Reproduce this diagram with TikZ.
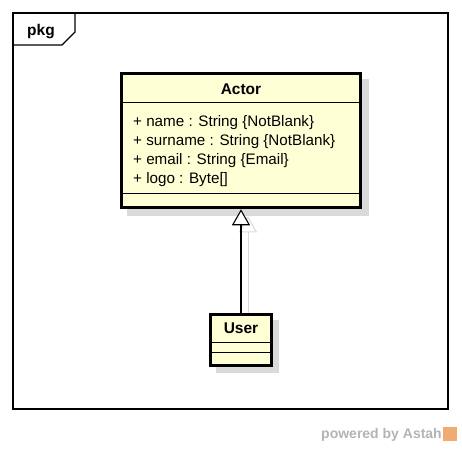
\documentclass[tikz,border=0pt]{standalone}
\usepackage{fontspec}
\setmainfont{Liberation Sans}
\usepackage{xcolor}
\usepackage{tikz}
\usetikzlibrary{arrows.meta, positioning, calc}
\definecolor{classfill}{RGB}{255,255,214}
\definecolor{shadowgray}{RGB}{218,218,218}
\definecolor{astahgray}{RGB}{180,180,180}
\definecolor{astahorange}{RGB}{240,172,112}
\tikzset{
  classbox/.style={draw, line width=3pt, fill=classfill, inner sep=0pt},
  shadowbox/.style={fill=shadowgray, draw=none},
  sepline/.style={line width=0.9pt},
  frame/.style={line width=1.2pt},
  inherit/.style={-{Triangle[open, length=16pt, width=18pt, fill=white]}, line width=1.1pt},
  shadowlink/.style={{Triangle[open, length=16pt, width=18pt]}-, line width=1pt, draw=shadowgray},
  attr/.style={anchor=base west, inner sep=0pt, font=\fontsize{15.2}{18}\selectfont},
  title/.style={anchor=base, inner sep=0pt, font=\fontsize{15.5}{18}\selectfont\bfseries}
}

\begin{document}
\begin{tikzpicture}[x=1pt, y=-1pt]
        \useasboundingbox (0,0) rectangle (462,449);

        % Package frame
        \draw[frame] (13,13) rectangle (448,409);
        \draw[frame] (13,45) -- (62,45) -- (75,32) -- (75,13);
        \node[title] (pkg) at (41,36) {pkg};

        % Shadows
        \fill[shadowbox] (127,79) rectangle (369,216);
        \fill[shadowbox] (216,320) rectangle (279,373);

        % Classes
        \node[classbox, minimum width=239.5, minimum height=134.5] (actor) at (241,140.5) {};
        \draw[sepline] ($(actor.north west)+(0,31)$) -- ($(actor.north east)+(0,31)$);
        \draw[sepline] ($(actor.south west)+(0,-16)$) -- ($(actor.south east)+(0,-16)$);
        \node[title] (actorname) at (241,94.5) {Actor};
        \node[attr] (attrname)    at (133,127)   {+ name : String \{NotBlank\}};
        \node[attr] (attrsurname) at (133,145.7) {+ surname : String \{NotBlank\}};
        \node[attr] (attremail)   at (133,164.3) {+ email : String \{Email\}};
        \node[attr] (attrlogo)    at (133,183)   {+ logo : Byte[]};

        \node[classbox, minimum width=60.5, minimum height=50.5] (user) at (241,340) {};
        \draw[sepline] ($(user.north west)+(0,29)$) -- ($(user.north east)+(0,29)$);
        \draw[sepline] ($(user.north west)+(0,39)$) -- ($(user.north east)+(0,39)$);
        \node[title] (username) at (241,333) {User};

        % Generalization
        \draw[shadowlink] ($(actor.south)+(7,7)$) -- ($(user.north)+(7,0)$);
        \draw[inherit] (user.north) -- (actor.south);

        % Footer
        \node[anchor=base east, inner sep=0pt, text=astahgray, font=\fontsize{14}{16}\selectfont\bfseries] (powered) at (442,438) {powered by Astah};
        \node[anchor=south west, fill=astahorange, minimum size=14, inner sep=0pt] (astahlogo) at (443,441.5) {};
    \end{tikzpicture}
\end{document}
